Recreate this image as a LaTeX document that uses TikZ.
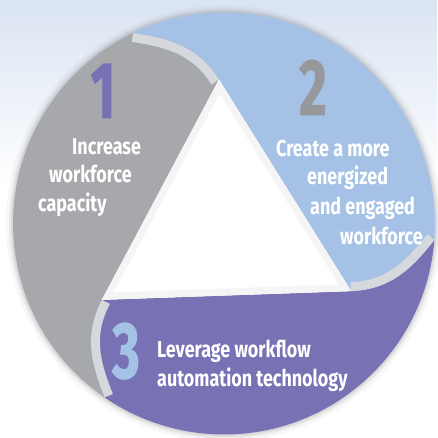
\documentclass[tikz,border=0pt]{standalone}
\usepackage{fontspec}
\setmainfont{Fira Sans}[FakeStretch=0.78]
\newfontfamily\numfont{Fira Sans}[FakeStretch=0.66, FakeBold=1.2]

\definecolor{bgblue}{HTML}{DAE4F2}
\definecolor{bladegray}{HTML}{A7A8AB}
\definecolor{bladeblue}{HTML}{A5C2E6}
\definecolor{bladepurple}{HTML}{7872B4}
\definecolor{bandgray}{HTML}{D5D8DD}
\definecolor{numgray}{HTML}{97989C}

\newcommand{\bladepath}{(115.5:211) arc[start angle=115.5, end angle=-4.5, radius=211]
  .. controls (346.8:193.6) and (338.4:179.7) .. (332:144) -- (92:144)
  .. controls (98.4:179.7) and (106.8:193.6) .. (115.5:211) -- cycle}
\newcommand{\bladeedge}{(92:144) .. controls (98.4:179.7) and (106.8:193.6) .. (115.5:211)}

\begin{document}
\begin{tikzpicture}[x=1pt,y=1pt,
    bandline/.style={line width=18, draw=bandgray},
    label/.style={text=white, font=\fontsize{23}{23}\selectfont\bfseries, anchor=base west, inner sep=0},
    bignum/.style={font=\numfont\fontsize{80}{80}\selectfont\bfseries, anchor=base, inner sep=0}]

        \useasboundingbox (0,0) rectangle (437,438);
        \fill[white] (0,0) rectangle (437,438);
        \shade[top color=bgblue, bottom color=white] (0,250) rectangle (437,438);

        \begin{scope}[shift={(224,214.5)}]
        \foreach \s/\o in {218/0.03, 215/0.05, 213/0.07}
            \fill[black, opacity=\o] (0,0) circle[radius=\s];

        \fill[bladeblue] \bladepath;
        \fill[bladegray, rotate=120] \bladepath;
        \fill[bladepurple, rotate=240] \bladepath;

        \foreach \r in {0,120,240} {
            \begin{scope}
            \clip[rotate=\r+120] \bladepath;
            \draw[bandline, rotate=\r] \bladeedge;
            \end{scope}
        }

        \fill[white] (92:144) -- (212:144) -- (332:144) -- cycle;
        \begin{scope}
        \clip (92:144) -- (212:144) -- (332:144) -- cycle;
        \draw[line width=14, black!4] (92:144) -- (212:144) -- (332:144) -- cycle;
        \end{scope}
        \end{scope}

        \node[bignum, text=bladepurple] (one) at (103,320) {1};
        \node[label] (inc) at (72,283) {Increase};
        \node[label] (wfa) at (49,255) {workforce};
        \node[label] (cap) at (38,226) {capacity};

        \node[bignum, text=numgray] (two) at (313,323) {2};
        \node[label] (cre) at (276,281) {Create a more};
        \node[label] (ene) at (307,253) {energized};
        \node[label] (eng) at (310,223) {and engaged};
        \node[label] (wfb) at (340,193) {workforce};

        \node[bignum, text=bladeblue] (three) at (126,60) {3};
        \node[label] (lev) at (157,80) {Leverage workflow};
        \node[label] (aut) at (157,51) {automation technology};

\end{tikzpicture}
\end{document}
